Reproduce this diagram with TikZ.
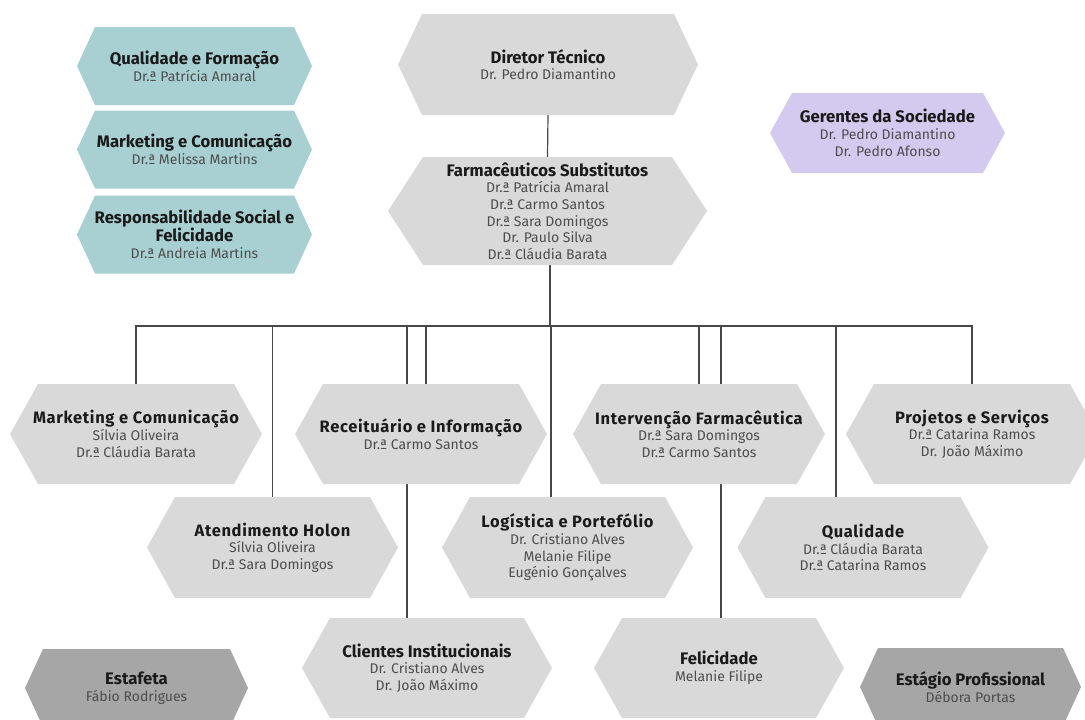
\documentclass[tikz,border=0pt]{standalone}
\usepackage{fontspec}
\setmainfont{Fira Sans}
\newfontfamily\rowfam[LetterSpace=4]{Fira Sans}
\pgfdeclarelayer{background}
\pgfsetlayers{background,main}
\definecolor{boxgray}{HTML}{D9D9D9}
\definecolor{darkbox}{HTML}{A6A6A6}
\definecolor{teal}{HTML}{A8D0D2}
\definecolor{lav}{HTML}{D4C9EE}
\definecolor{titlecol}{HTML}{1A1A1A}
\definecolor{namecol}{HTML}{4D4D4D}
\definecolor{linecol}{HTML}{484848}
\newcommand\ttl[1]{{\fontsize{16.7}{18.5}\selectfont\bfseries\color{titlecol}#1}}
\newcommand\rttl[1]{{\rowfam\fontsize{16.5}{18.5}\selectfont\bfseries\color{titlecol}#1}}
\newcommand\hexnode[8]{%
  \fill[#7] ({#2-#4/2},#3) -- ({#2-#4/2+#6},{#3-#5/2}) -- ({#2+#4/2-#6},{#3-#5/2}) -- ({#2+#4/2},#3) -- ({#2+#4/2-#6},{#3+#5/2}) -- ({#2-#4/2+#6},{#3+#5/2}) -- cycle;
  \node[boxtext, minimum width=#4pt, minimum height=#5pt] (#1) at (#2,#3) {#8};%
}
\begin{document}
\begin{tikzpicture}[x=1pt,y=-1pt,
  boxtext/.style={inner sep=0pt, align=center, text=namecol, font=\fontsize{14}{16.7}\selectfont},
  conn/.style={draw=linecol, line width=1.2pt}]
\useasboundingbox (0,0) rectangle (1085,720);
% left teal boxes
\hexnode{qf}{194.5}{66}{235}{78}{18}{teal}{\ttl{Qualidade e Formação}\\Dr.ª Patrícia Amaral}
\hexnode{mct}{194.5}{149.5}{235}{78}{18}{teal}{\ttl{Marketing e Comunicação}\\Dr.ª Melissa Martins}
\hexnode{rsf}{194.5}{234.5}{235}{78}{18}{teal}{\ttl{Responsabilidade Social e}\\\ttl{Felicidade}\\Dr.ª Andreia Martins}
% gerentes
\hexnode{ger}{887.5}{133}{235}{80}{22}{lav}{\ttl{Gerentes da Sociedade}\\Dr. Pedro Diamantino\\Dr. Pedro Afonso}
% top
\hexnode{dir}{548}{64.5}{300}{101}{24}{boxgray}{\ttl{Diretor Técnico}\\Dr. Pedro Diamantino}
\hexnode{farm}{547.5}{211}{319}{108}{35}{boxgray}{\ttl{Farmacêuticos Substitutos}\\Dr.ª Patrícia Amaral\\Dr.ª Carmo Santos\\Dr.ª Sara Domingos\\Dr. Paulo Silva\\Dr.ª Cláudia Barata}
% row 2
\hexnode{mkt}{136}{434}{252}{100}{28}{boxgray}{\rttl{Marketing e Comunicação}\\Sílvia Oliveira\\Dr.ª Cláudia Barata}
\hexnode{rec}{421}{434}{252}{100}{28}{boxgray}{\rttl{Receituário e Informação}\\Dr.ª Carmo Santos}
\hexnode{int}{699}{434}{252}{100}{28}{boxgray}{\rttl{Intervenção Farmacêutica}\\Dr.ª Sara Domingos\\Dr.ª Carmo Santos}
\hexnode{proj}{972}{434}{252}{100}{28}{boxgray}{\rttl{Projetos e Serviços}\\Dr.ª Catarina Ramos\\Dr. João Máximo}
% row 3
\hexnode{ate}{272.5}{547.5}{251}{101}{28}{boxgray}{\rttl{Atendimento Holon}\\Sílvia Oliveira\\Dr.ª Sara Domingos}
\hexnode{log}{567.5}{547.5}{251}{101}{28}{boxgray}{\rttl{Logística e Portefólio}\\Dr. Cristiano Alves\\Melanie Filipe\\Eugénio Gonçalves}
\hexnode{qual}{863}{547.5}{251}{101}{28}{boxgray}{\rttl{Qualidade}\\Dr.ª Cláudia Barata\\Dr.ª Catarina Ramos}
% row 4
\hexnode{cli}{427}{668}{250}{100}{28}{boxgray}{\ttl{Clientes Institucionais}\\Dr. Cristiano Alves\\Dr. João Máximo}
\hexnode{fel}{719}{668}{250}{100}{28}{boxgray}{\ttl{Felicidade}\\Melanie Filipe}
\hexnode{est}{136.5}{688}{223}{78}{18}{darkbox}{\ttl{Estafeta}\\Fábio Rodrigues}
\hexnode{estg}{970.5}{687}{221}{78}{18}{darkbox}{\ttl{Estágio Profissional}\\Débora Portas}
% connectors
\begin{pgfonlayer}{background}
\coordinate (bus) at (550,326);
\draw[conn] (dir.south) -- (farm.north);
\draw[conn] ([xshift=2.5pt]farm.south) -- (bus);
\draw[conn] (mkt.north) |- (bus);
\draw[conn] (ate.north) |- (bus);
\draw[conn] ([xshift=-20pt]cli.north) |- (bus);
\draw[conn] ([xshift=5pt]rec.north) |- (bus);
\draw[conn] ([xshift=-16.5pt]log.north) -- ++(0,-171);
\draw[conn] (int.north) |- (bus);
\draw[conn] ([xshift=2pt]fel.north) |- (bus);
\draw[conn] ([xshift=-27pt]qual.north) |- (bus);
\draw[conn] (proj.north) |- (bus);
\end{pgfonlayer}
\end{tikzpicture}
\end{document}
